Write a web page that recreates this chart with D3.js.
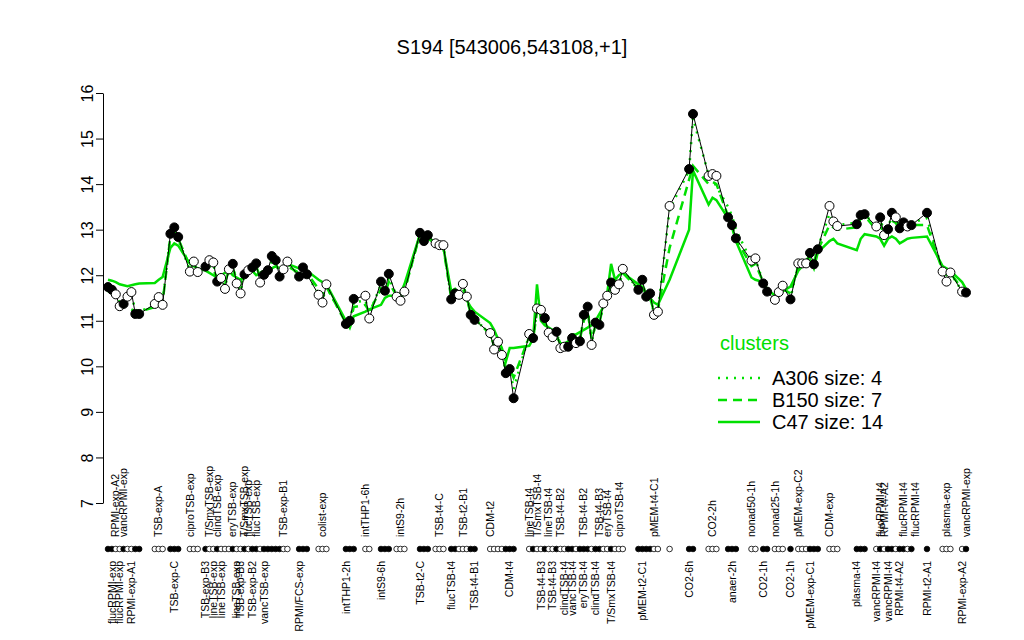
<!DOCTYPE html>
<html>
<head>
<meta charset="utf-8">
<script src="https://cdn.jsdelivr.net/npm/d3@7"></script>
<style>
  body { margin: 0; background: #fff; }
  svg { font-family: "Liberation Sans", Arial, sans-serif; }
</style>
</head>
<body>
<svg id="chart" width="1024" height="640"></svg>
<script>
const TITLE = "S194 [543006,543108,+1]";
const GREEN = "#00e000";

// sample slot where each condition block starts, and how many samples it has
const groupStart = [0, 12, 16, 21, 25, 49, 54, 61, 66, 70, 74, 80, 84, 88, 98, 108,
  136, 144, 149, 154, 159, 165, 168, 171, 175, 177, 185, 192, 197, 210, 214, 219];
const groupSize = [9, 3, 3, 3, 22, 3, 3, 3, 2, 3, 3, 3, 3, 7, 7, 25,
  6, 1, 2, 3, 3, 2, 2, 3, 1, 6, 3, 3, 10, 1, 3, 2];

const values = [
  11.74, 11.68, 11.58, 11.32, 11.37, 11.53, 11.63, 11.15, 11.15,
  11.37, 11.52, 11.35,
  12.91, 13.05, 12.84,
  12.08, 12.30, 12.07,
  12.19, 12.33, 12.28, 11.86, 11.94, 11.70, 12.13, 12.25, 11.82, 11.60, 12.02,
  12.11, 12.17, 12.26, 11.84, 12.01, 12.11, 12.42, 12.33, 11.97, 12.13, 12.30,
  11.97, 12.17, 12.02,
  11.57, 11.40, 11.80,
  10.93, 11.00, 11.48,
  11.55, 11.05,
  11.86, 11.66, 12.03,
  11.53, 11.44, 11.64,
  12.93, 12.75, 12.88,
  12.70, 12.66, 12.66,
  11.47, 11.60, 11.57, 11.81, 11.53, 11.13, 11.02,
  10.73, 10.37, 10.54, 10.25, 9.85, 9.94, 9.30,
  10.71, 10.62, 11.27, 11.24, 11.06, 10.74, 10.64, 10.76, 10.40, 10.43, 10.43, 10.62,
  10.51, 10.55, 11.13, 11.31, 10.47, 10.96, 10.91, 11.38, 11.55, 11.84, 11.68, 11.80, 12.14,
  11.68, 11.90, 11.53, 11.60, 11.13, 11.20,
  13.52,
  14.33, 15.54,
  14.18, 14.22, 14.18,
  13.27, 13.10, 12.81,
  12.32, 12.37,
  11.82, 11.64,
  11.46, 11.63, 11.77,
  11.47,
  12.26, 12.26, 12.26, 12.49, 12.24, 12.57,
  13.52, 13.18, 13.08,
  13.12, 13.32, 13.34,
  13.07, 13.27, 12.88, 13.01, 13.37, 13.27, 13.03, 13.16, 13.07, 13.10,
  13.37,
  12.08, 11.86, 12.06,
  11.64, 11.62
];

// F = filled symbol, O = open symbol
const filled = [
  "FFOOFOOFF", "OOO", "FFF", "OOO", "FOOFOOOFOOFOFFOFFFFFOO", "FFF", "OOO", "FFF",
  "OO", "FFF", "OOO", "FFF", "OOO", "FFOOOFF", "OOOOFFF", "OFOOFOOFOOFFOFFFOFFOOFOOO",
  "FFFFOO", "O", "FF", "OOO", "FFF", "OO", "FF", "OOO", "F", "OOOFFF", "OOO", "FFF",
  "OFOFFOFFOF", "F", "OOO", "OF"
].join("");

const c47 = [
  11.90, 11.88, 11.85, 11.80, 11.78, 11.76, 11.78, 11.80, 11.82,
  11.83, 11.90, 11.96,
  12.60, 12.70, 12.65,
  12.25, 12.20, 12.15,
  12.10, 12.05, 12.00, 11.95, 12.00, 12.05, 12.10, 12.00, 11.95, 11.90, 12.00,
  12.05, 12.10, 12.00, 12.05, 12.10, 12.10, 12.15, 12.20, 12.15, 12.20, 12.25,
  12.15, 12.20, 12.10,
  11.90, 11.85, 11.80,
  11.00, 10.85, 11.10,
  11.20, 11.25,
  11.35, 11.50, 11.55,
  11.55, 11.60, 11.80,
  12.90, 12.85, 12.80,
  12.70, 12.65, 12.60,
  11.65, 11.70, 11.60, 11.55, 11.45, 11.30, 11.20,
  10.95, 10.80, 10.60, 10.40, 10.10, 10.40, 10.40,
  10.45, 10.60, 11.80, 11.00, 10.90, 10.85, 10.80, 10.65, 10.50, 10.50, 10.55, 10.70,
  10.70, 10.75, 10.80, 10.85, 10.90, 11.00, 11.15, 11.30, 11.60, 12.25, 11.90, 12.00, 12.05,
  11.80, 11.75, 11.60, 11.50, 11.40, 11.35,
  11.90,
  13.00, 14.30,
  13.55, 13.70, 13.65,
  13.25, 13.05, 12.75,
  11.95, 11.90,
  11.85, 11.70,
  11.55, 11.60, 11.65,
  11.75,
  12.10, 12.20, 12.30, 12.35, 12.15, 12.50,
  12.75, 12.80, 12.70,
  12.55, 12.80, 12.90,
  12.85, 12.80, 12.65, 12.80, 12.85, 12.80, 12.70, 12.75, 12.80, 12.82,
  12.85,
  12.20, 12.15, 12.10,
  11.85, 11.70
];

const b150 = [
  11.65, 11.60, 11.50, 11.40, 11.35, 11.30, 11.25, 11.20, 11.20,
  11.30, 11.45, 11.40,
  12.85, 12.95, 12.80,
  12.20, 12.25, 12.10,
  12.15, 12.20, 12.10, 11.95, 11.90, 11.85, 12.10, 12.15, 11.90, 11.80, 12.00,
  12.05, 12.10, 12.20, 11.95, 12.00, 12.10, 12.30, 12.25, 12.05, 12.10, 12.20,
  12.05, 12.15, 12.05,
  11.70, 11.55, 11.75,
  10.95, 10.90, 11.30,
  11.35, 11.20,
  11.70, 11.60, 11.85,
  11.55, 11.50, 11.65,
  12.90, 12.80, 12.85,
  12.70, 12.65, 12.60,
  11.50, 11.60, 11.55, 11.70, 11.50, 11.15, 11.05,
  10.70, 10.45, 10.50, 10.30, 9.95, 9.95, 9.75,
  10.65, 10.60, 11.20, 11.15, 11.00, 10.75, 10.70, 10.70, 10.50, 10.45, 10.50, 10.60,
  10.55, 10.60, 11.00, 11.20, 10.60, 10.90, 10.95, 11.35, 11.50, 11.75, 11.70, 11.80, 12.05,
  11.70, 11.80, 11.55, 11.50, 11.20, 11.25,
  12.60,
  14.10, 14.40,
  14.00, 14.05, 14.00,
  13.30, 13.10, 12.80,
  12.20, 12.25,
  11.85, 11.65,
  11.50, 11.60, 11.70,
  11.60,
  12.20, 12.25, 12.30, 12.45, 12.30, 12.55,
  13.10, 13.05, 13.00,
  13.05, 13.25, 13.30,
  13.00, 13.10, 12.90, 13.00, 13.20, 13.15, 13.00, 13.10, 13.05, 13.10,
  13.10,
  12.10, 12.00, 12.05,
  11.70, 11.65
];

const a306 = [
  11.70, 11.65, 11.55, 11.40, 11.40, 11.50, 11.55, 11.25, 11.20,
  11.35, 11.45, 11.40,
  12.90, 13.00, 12.80,
  12.10, 12.30, 12.10,
  12.20, 12.30, 12.25, 11.90, 11.95, 11.75, 12.10, 12.20, 11.85, 11.65, 12.00,
  12.10, 12.15, 12.25, 11.85, 12.00, 12.10, 12.40, 12.30, 12.00, 12.15, 12.25,
  12.00, 12.15, 12.00,
  11.60, 11.45, 11.75,
  10.95, 11.00, 11.40,
  11.45, 11.15,
  11.80, 11.65, 11.95,
  11.55, 11.45, 11.65,
  12.90, 12.75, 12.85,
  12.70, 12.65, 12.65,
  11.50, 11.60, 11.60, 11.80, 11.55, 11.15, 11.05,
  10.70, 10.40, 10.50, 10.25, 9.90, 9.95, 9.50,
  10.70, 10.60, 11.25, 11.20, 11.05, 10.75, 10.65, 10.75, 10.45, 10.45, 10.45, 10.60,
  10.50, 10.55, 11.10, 11.30, 10.50, 10.95, 10.90, 11.35, 11.55, 11.80, 11.70, 11.80, 12.10,
  11.70, 11.85, 11.55, 11.55, 11.15, 11.20,
  13.45,
  14.30, 15.45,
  14.20, 14.10, 13.95,
  13.50, 13.30, 13.00,
  12.30, 12.35,
  11.85, 11.65,
  11.50, 11.60, 11.75,
  11.50,
  12.25, 12.25, 12.30, 12.50, 12.30, 12.60,
  13.35, 13.15, 13.10,
  13.15, 13.30, 13.35,
  13.05, 13.20, 13.00, 13.05, 13.30, 13.25, 13.10, 13.15, 13.10, 13.15,
  13.25,
  12.10, 11.90, 12.05,
  11.65, 11.63
];

// [sample slot, label] drawn above and below the row of symbols
const topLabels = [
  [2, "RPMI-exp-A2"], [4, "vancRPMI-exp"], [13, "TSB-exp-A"], [21, "ciproTSB-exp"],
  [26, "T/SmxTSB-exp"], [28, "clindTSB-exp"], [32, "eryTSB-exp"], [35, "T/SmxTSB-exp"],
  [36, "flucTSB-exp"], [38, "flucTSB-exp"], [45, "TSB-exp-B1"], [55, "colist-exp"],
  [66, "intTHP1-6h"], [75, "intS9-2h"], [85, "TSB-t4-C"], [91, "TSB-t2-B1"],
  [98, "CDM-t2"], [108, "lineTSB-t4"], [110, "T/SmxTSB-t4"], [113, "lineTSB-t4"],
  [116, "TSB-t4-B2"], [122, "TSB-t4-B2"], [126, "TSB-t4-B3"], [128, "eryTSB-t4"],
  [131, "ciproTSB-t4"], [140, "pMEM-t4-C1"], [155, "CO2-2h"], [165, "nonad50-1h"],
  [171, "nonad25-1h"], [177, "pMEM-exp-C2"], [185, "CDM-exp"], [198, "flucRPMI-t4"],
  [199, "RPMI-t4-A2"], [204, "flucRPMI-t4"], [207, "flucRPMI-t4"], [215, "plasma-exp"],
  [220, "vancRPMI-exp"]
];
const bottomLabels = [
  [1, "flucRPMI-exp"], [3, "flucRPMI-exp"], [6, "RPMI-exp-A1"], [17, "TSB-exp-C"],
  [25, "TSB-exp-B3"], [27, "lineTSB-exp"], [29, "lineTSB-exp"], [33, "lineTSB-exp"],
  [34, "TSB-exp-B3"], [37, "TSB-exp-B2"], [40, "vancTSB-exp"], [49, "RPMI/FCS-exp"],
  [61, "intTHP1-2h"], [70, "intS9-6h"], [80, "TSB-t2-C"], [88, "flucTSB-t4"],
  [94, "TSB-t4-B1"], [103, "CDM-t4"], [111, "TSB-t4-B3"], [114, "TSB-t4-B3"],
  [117, "clindTSB-t4"], [119, "vancTSB-t4"], [122, "eryTSB-t4"], [125, "clindTSB-t4"],
  [129, "T/SmxTSB-t4"], [137, "pMEM-t2-C1"], [149, "CO2-6h"], [160, "anaer-2h"],
  [168, "CO2-1h"], [175, "CO2-1h"], [180, "pMEM-exp-C1"], [192, "plasma-t4"],
  [197, "vancRPMI-t4"], [200, "vancRPMI-t4"], [203, "RPMI-t4-A2"], [210, "RPMI-t2-A1"],
  [219, "RPMI-exp-A2"]
];

const yTicks = [7, 8, 9, 10, 11, 12, 13, 14, 15, 16];
const clusterNames = ["A306 size: 4", "B150 size: 7", "C47 size: 14"];
const clusterDash = ["2,6", "9,6", null];

// ---- layout
const svg = d3.select("#chart");
const slots = groupStart.flatMap((s, i) => d3.range(groupSize[i]).map(k => s + k));
const samples = slots.map((s, i) => ({
  slot: s, value: values[i], filled: filled[i] === "F",
  c47: c47[i], b150: b150[i], a306: a306[i]
}));
if (samples.length !== values.length) console.error("length mismatch", slots.length, values.length);

const x = d3.scaleLinear().domain([0, d3.max(slots)]).range([108, 966]);
const y = d3.scaleLinear().domain([7, 16]).range([503, 93]);
const DOT_ROW = 549;

svg.append("text")
  .attr("x", 512).attr("y", 54)
  .attr("text-anchor", "middle")
  .attr("font-size", 20)
  .text(TITLE);

const yAxis = svg.append("g")
  .attr("transform", "translate(103,0)")
  .call(d3.axisLeft(y).tickValues(yTicks).tickSize(7).tickSizeOuter(0).tickFormat(d3.format("d")));
yAxis.select(".domain").attr("stroke", "#000");
yAxis.selectAll(".tick line").attr("stroke", "#000");
yAxis.selectAll(".tick text")
  .attr("x", 0).attr("dy", 0)
  .attr("transform", "translate(-10,0) rotate(-90)")
  .attr("text-anchor", "middle")
  .attr("font-size", 16)
  .attr("font-family", "Liberation Sans, Arial, sans-serif")
  .attr("fill", "#000");

// cluster profiles
const keys = ["a306", "b150", "c47"];
keys.forEach((k, i) => {
  const line = d3.line().x(d => x(d.slot)).y(d => y(d[k]));
  svg.append("path")
    .datum(samples)
    .attr("d", line)
    .attr("fill", "none")
    .attr("stroke", GREEN)
    .attr("stroke-width", 2.5)
    .attr("stroke-dasharray", clusterDash[i]);
});

// gene profile
svg.append("path")
  .datum(samples)
  .attr("d", d3.line().x(d => x(d.slot)).y(d => y(d.value)))
  .attr("fill", "none")
  .attr("stroke", "#000")
  .attr("stroke-width", 1);

svg.append("g").selectAll("circle")
  .data(samples)
  .join("circle")
  .attr("cx", d => x(d.slot))
  .attr("cy", d => y(d.value))
  .attr("r", 4.5)
  .attr("fill", d => d.filled ? "#000" : "#fff")
  .attr("stroke", "#000")
  .attr("stroke-width", 1);

// sample symbol row
svg.append("g").selectAll("circle")
  .data(samples)
  .join("circle")
  .attr("cx", d => x(d.slot))
  .attr("cy", DOT_ROW)
  .attr("r", 2.8)
  .attr("fill", d => d.filled ? "#000" : "#fff")
  .attr("stroke", "#000")
  .attr("stroke-width", 0.8);

svg.append("g").selectAll("text")
  .data(topLabels)
  .join("text")
  .attr("transform", d => `translate(${x(d[0])},537) rotate(-90)`)
  .attr("dy", "0.35em")
  .attr("text-anchor", "start")
  .attr("font-size", 10.5)
  .text(d => d[1]);

svg.append("g").selectAll("text")
  .data(bottomLabels)
  .join("text")
  .attr("transform", d => `translate(${x(d[0])},561) rotate(-90)`)
  .attr("dy", "0.35em")
  .attr("text-anchor", "end")
  .attr("font-size", 10.5)
  .text(d => d[1]);

// legend
const legend = svg.append("g").attr("transform", "translate(718,343)");
legend.append("text")
  .attr("x", 2).attr("y", 7)
  .attr("font-size", 20)
  .attr("fill", GREEN)
  .text("clusters");
const rows = legend.selectAll("g.row")
  .data(clusterNames)
  .join("g")
  .attr("class", "row")
  .attr("transform", (d, i) => `translate(0,${35 + i * 22})`);
rows.append("line")
  .attr("x1", 0).attr("x2", 42)
  .attr("stroke", GREEN)
  .attr("stroke-width", 2.5)
  .attr("stroke-dasharray", (d, i) => clusterDash[i]);
rows.append("text")
  .attr("x", 54).attr("y", 7)
  .attr("font-size", 20)
  .text(d => d);
</script>
</body>
</html>
